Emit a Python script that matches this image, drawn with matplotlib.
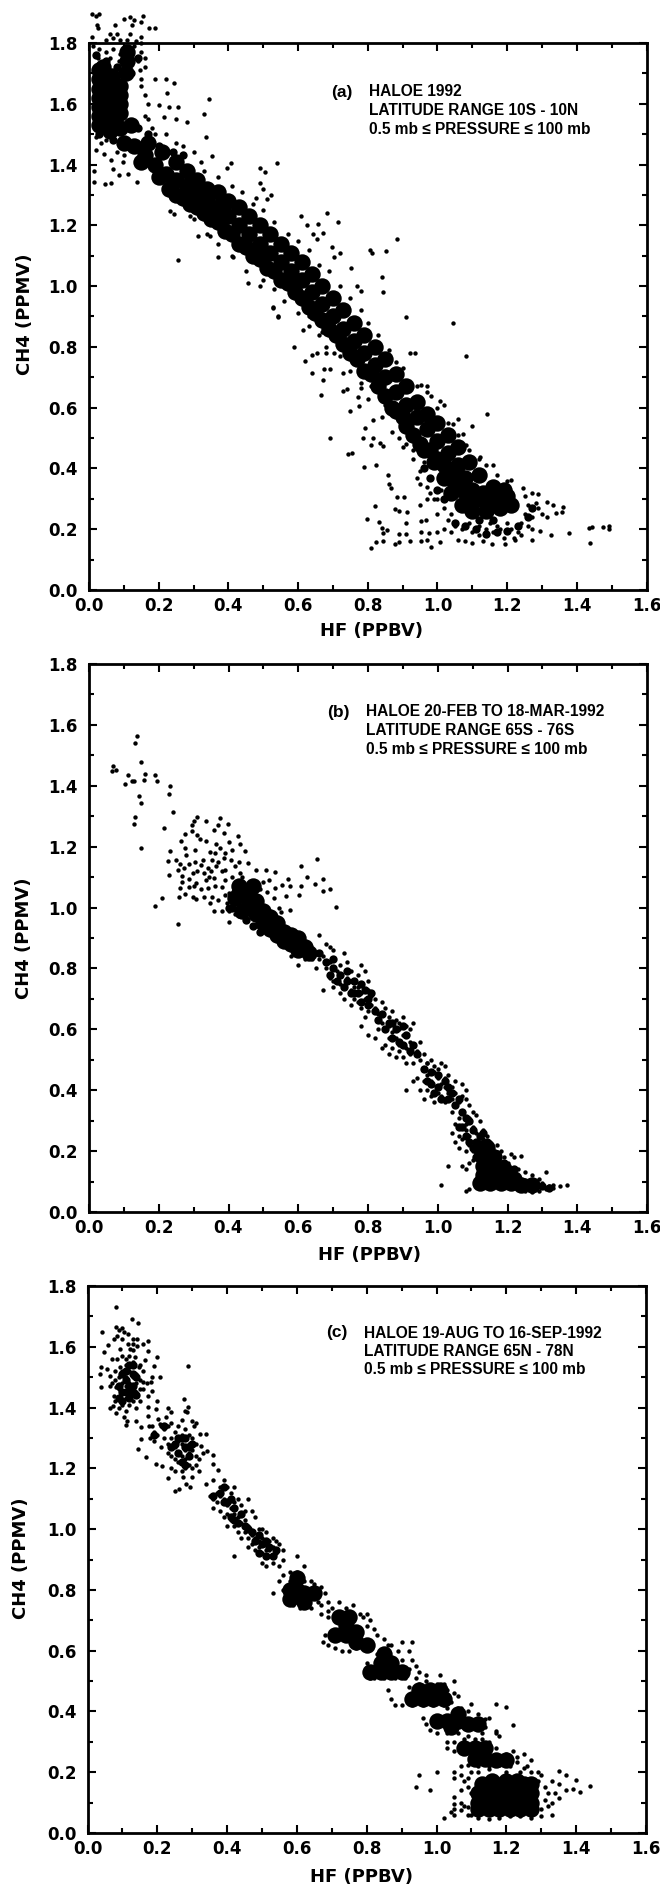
import numpy as np
import matplotlib
matplotlib.use("Agg")
import matplotlib.pyplot as plt
from matplotlib.ticker import MultipleLocator

plt.rcParams['font.family'] = ['DejaVu Sans']
plt.rcParams['font.weight'] = 'bold'

xticks = [0.0, 0.2, 0.4, 0.6, 0.8, 1.0, 1.2, 1.4, 1.6]
yticks = [0.0, 0.2, 0.4, 0.6, 0.8, 1.0, 1.2, 1.4, 1.6, 1.8]

dots_a = [(.02,1.89),(.01,1.895),(.03,1.895),(.023,1.86),(.025,1.85),(.075,1.86),(.1,1.88),(.117,1.885),(.123,1.86),(.13,1.875),(.154,1.89),(.148,1.87),(.172,1.85),(.19,1.85),(.06,1.83),(.08,1.83),(.117,1.83),(.148,1.82),(.01,1.82),(.05,1.81),(.07,1.815),(.09,1.81),(.11,1.81),(.135,1.805),(.15,1.8),
(.012,1.79),(.03,1.78),(.05,1.77),(.07,1.78),(.09,1.765),(.13,1.79),(.15,1.77),(.16,1.75),(.14,1.74),(.145,1.71),(.16,1.72),(.12,1.78),(.025,1.75),(.06,1.75),(.085,1.74),(.15,1.68),(.19,1.68),(.15,1.66),(.16,1.63),(.17,1.6),(.22,1.68),(.244,1.667),(.224,1.634),(.345,1.615),(.256,1.59),(.23,1.59),(.329,1.566),(.2,1.596),(.214,1.557),(.28,1.54),(.25,1.55),(.335,1.49),(.353,1.427),(.407,1.405),(.395,1.39),(.492,1.389),(.504,1.375),(.54,1.405),(.49,1.34),(.498,1.32),(.522,1.30),(.51,1.287),(.48,1.29),(.607,1.23),(.683,1.24),(.716,1.21),(.625,1.20),(.658,1.205),(.671,1.175),(.643,1.17),(.655,1.155),(.883,1.155),(.806,1.12),(.851,1.117),(.813,1.11),(.698,1.128),(.72,1.11),(.704,1.095),(.752,1.06),(.84,1.03),(.845,.98),(.77,1.0),(.782,.985),(.256,1.086),(.371,1.097),(.313,1.166),(.347,1.164),(.232,1.247),(.244,1.238),(.29,1.232),(.456,1.009),(.492,1.0),(.414,1.095),(.528,.93),(.543,.90),(.909,.899),
(.014,1.343),(.045,1.337),(.063,1.34),(.139,1.343),(.087,1.365),(.111,1.37),(.015,1.38),(.069,1.387),(.099,1.408),(.02,1.447),(.042,1.436),(.063,1.414),(.02,1.49),(.035,1.47),(.05,1.48),(.08,1.44),(.1,1.43),(.03,1.51),
(.17,1.55),(.18,1.52),(.19,1.5),(.16,1.56),(.22,1.5),(.25,1.47),(.27,1.46),(.3,1.44),(.32,1.41),(.33,1.38),(.37,1.36),(.41,1.33),(.44,1.31),(.47,1.27),(.5,1.25),(.53,1.21),(.57,1.17),(.6,1.15),(.63,1.12),(.66,1.07),(.69,1.05),(.72,1.0),(.75,.96),(.78,.92),(.8,.88),(.83,.84),(.86,.79),(.88,.75),(.9,.73),(.94,.67),(.97,.65),(1.0,.6),(1.03,.55),(1.06,.51),(1.09,.46),(1.12,.43),(1.14,.41),(1.17,.38),(1.2,.36),
(.3,1.22),(.34,1.17),(.37,1.14),(.41,1.1),(.45,1.05),(.5,1.02),(.53,.99),(.56,.95),(.6,.91),(.63,.87),(.66,.84),(.68,.8),(.72,.77),(.75,.72),(.78,.68),(.8,.63),(.84,.57),(.87,.52),(.9,.47),(.93,.43),(.95,.39),(.97,.34),(.99,.3),(1.0,.25),(.97,.3),(.95,.28),
(1.046,.88),(1.082,.77),(.921,.78),(.937,.78),(.589,.8),(.613,.855),(.529,.927),(.543,.899),(.619,.753),(.641,.772),(.655,.779),(.68,.781),(.704,.781),(.641,.713),(.674,.728),(.692,.726),(.671,.69),(.665,.643),(.728,.715),(.74,.66),(.728,.656),(.773,.634),(.749,.59),(.774,.604),(.782,.665),(.692,.5),(.785,.5),(.792,.533),(.816,.56),(.815,.5),(.809,.476),(.834,.483),(.845,.475),(.742,.447),(.755,.45),(.788,.404),(.825,.412),(.857,.377),(.861,.348),(.867,.337),(.885,.307),(.903,.305),(.822,.277),(.879,.267),(.891,.261),(.913,.258),(.798,.233),(.833,.225),(.84,.205),(.855,.197),(.843,.189),(.909,.219),(.891,.184),(.909,.183),(.825,.159),(.843,.161),(.809,.137),(.879,.151),(.891,.159),(.921,.161),(.952,.161),(.97,.164),(.982,.142),(1.006,.159),(.952,.192),(.976,.186),(.952,.228),(.967,.23),
(1.143,.579),(1.099,.541),(1.06,.564),(1.046,.546),(1.018,.61),(1.006,.621),(.982,.638),(.97,.671),(.952,.676),(1.073,.513),(1.082,.478),(1.121,.439),(1.16,.412),(1.212,.362),(1.245,.337),(1.29,.315),(1.272,.32),(1.284,.285),(1.314,.291),(1.333,.28),(1.36,.274),(1.357,.258),(1.339,.255),(1.314,.241),(1.294,.194),(1.326,.181),(1.379,.189),(1.435,.203),(1.445,.206),(1.475,.206),(1.492,.211),(1.492,.2),(1.438,.154),(1.272,.164),(1.224,.164),(1.194,.153),(1.157,.153),
(1.25,.31),(1.26,.28),(1.25,.25),(1.27,.24),(1.24,.22),(1.26,.21),(1.23,.19),(1.21,.2),(1.24,.18),(1.22,.17),(1.27,.2),(1.29,.27),(1.3,.25),(1.18,.2),(1.16,.19),(1.19,.17),(1.14,.2),(1.12,.18),(1.1,.19),(1.13,.16),(1.1,.155),(1.08,.16),(1.06,.165),(1.04,.19),(1.05,.21),(1.02,.2),(1.0,.19),(1.03,.23),(1.07,.2),(1.09,.22),(1.12,.21),(1.15,.22),(1.17,.21),(1.2,.22),(1.04,.25),(1.02,.27),(1.0,.3),(.98,.32),(1.01,.33),(.95,.35),(.94,.37),(.96,.42),(.93,.46),(.91,.48),(.89,.5),(.9,.55),(.87,.58),(.85,.61),(.84,.64),(.81,.67),(.78,.71),(.72,.8),(.7,.83),(.67,.85),(.63,.9)]

mid_a = [(1.05,.22),(1.08,.21),(1.11,.2),(1.14,.185),(1.17,.19),(1.2,.195),(1.23,.21),(1.12,.23),(1.16,.23),(1.26,.24),(1.27,.27),(1.0,.33),(.98,.37),(.96,.4),(1.02,.3),
(.02,1.76),(.05,1.74),(.08,1.72),(.12,1.7),(.14,1.75),(.03,1.5),(.07,1.48),(.14,1.52),(.17,1.5),(.2,1.46),(.24,1.44),(.27,1.43)]

core_a = [(.03,1.53),(.03,1.56),(.03,1.59),(.03,1.62),(.03,1.65),(.03,1.68),(.03,1.71),(.04,1.55),(.04,1.58),(.04,1.61),(.04,1.64),(.04,1.67),(.04,1.70),(.04,1.72),(.065,1.54),(.065,1.57),(.065,1.6),(.065,1.63),(.065,1.66),(.065,1.69),(.09,1.57),(.09,1.6),(.09,1.63),(.09,1.66),(.105,1.7),(.11,1.74),(.11,1.77),(.09,1.52),(.12,1.53),(.06,1.51),
(.1,1.47),(.13,1.46),(.16,1.43),(.19,1.40),(.22,1.37),(.25,1.35),(.28,1.33),(.31,1.30),(.34,1.28),(.37,1.26),(.40,1.23),(.43,1.20),(.46,1.17),(.49,1.14),(.52,1.11),(.55,1.08),(.58,1.05),(.61,1.02),(.64,.98),(.67,.94),(.70,.90),(.73,.86),(.76,.82),(.79,.78),(.82,.74),(.85,.70),(.88,.65),(.91,.61),(.94,.57),(.97,.53),(1.0,.49),(1.03,.45),(1.06,.41),(1.08,.37),(1.10,.33),(1.12,.30),
(.17,1.47),(.21,1.44),(.25,1.41),(.28,1.38),(.31,1.35),(.34,1.32),(.37,1.31),(.40,1.28),(.43,1.26),(.46,1.23),(.49,1.20),(.52,1.17),(.55,1.14),(.58,1.11),(.61,1.08),(.64,1.04),(.67,1.00),(.70,.96),(.73,.92),(.76,.88),(.79,.84),(.82,.80),(.85,.76),(.88,.71),(.91,.67),(.94,.62),(.97,.58),(1.0,.55),(1.03,.51),(1.06,.47),(1.09,.42),(1.12,.38),(1.16,.34),(1.2,.31),
(.23,1.32),(.27,1.29),(.31,1.26),(.35,1.22),(.39,1.18),(.43,1.14),(.47,1.10),(.51,1.06),(.55,1.02),(.59,.98),(.63,.93),(.67,.89),(.71,.84),(.75,.78),(.79,.72),(.83,.67),(.87,.60),(.91,.54),(.95,.48),(.99,.42),(1.02,.37),(1.04,.32),(1.07,.28),(1.1,.26),(1.14,.26),(1.18,.27),(1.21,.28),(1.15,.30),(1.19,.33),
(.93,.51),(.96,.46),(.98,.46),(1.0,.43),(1.02,.41),(1.04,.39),(1.05,.35),(1.07,.33),(1.09,.30),(1.13,.32),(1.17,.30),(1.06,.37),(.85,.64),(.88,.59),(.9,.57),(.81,.71),(.77,.76),(.73,.81),(.69,.86),(.65,.91),(.61,.96),(.57,1.01),(.53,1.05),(.49,1.09),(.45,1.13),(.41,1.17),(.37,1.21),(.33,1.24),(.29,1.27),(.25,1.3),(.2,1.36),(.15,1.41)]

# Panel (b)
dots_b = [(.138,1.565),(.133,1.542),(.15,1.478),(.069,1.466),(.077,1.452),(.065,1.45),(.111,1.436),(.102,1.406),(.123,1.417),(.13,1.417),(.157,1.42),(.162,1.44),(.19,1.436),(.196,1.417),(.232,1.4),(.229,1.373),(.144,1.368),(.15,1.343),(.133,1.297),(.129,1.275),(.148,1.195),(.242,1.315),(.216,1.26),(.19,1.005),(.208,1.033),(.256,.946),
(.311,1.299),(.302,1.283),(.295,1.272),(.335,1.283),(.377,1.294),(.371,1.272),(.359,1.255),(.399,1.274),(.386,1.246),(.428,1.235),(.432,1.209),(.447,1.187),(.274,1.241),(.295,1.25),(.311,1.239),(.265,1.22),(.317,1.224),(.335,1.217),(.365,1.209),(.401,1.215),(.377,1.195),(.232,1.186),(.226,1.154),(.23,1.107),(.274,1.195),(.305,1.189),(.347,1.184),(.278,1.173),(.25,1.157),(.262,1.143),(.287,1.143),(.256,1.124),(.271,1.129),(.305,1.151),(.326,1.157),(.353,1.157),(.386,1.162),(.407,1.157),(.456,1.146),(.42,1.135),(.48,1.124),(.508,1.124),(.534,1.116),(.432,1.113),(.268,1.104),(.299,1.113),(.329,1.113),(.365,1.135),(.389,1.124),(.268,1.085),(.287,1.093),(.307,1.08),(.335,1.091),(.359,1.096),(.262,1.063),(.287,1.069),(.341,1.063),(.38,1.069),(.259,1.034),(.274,1.045),(.299,1.036),(.307,1.027),(.329,1.036),(.347,1.014),(.359,.99),(.38,.99),(.401,.951),(.353,1.036),(.371,1.025),(.395,1.014),(.401,1.047),
(.32,1.14),(.34,1.13),(.37,1.15),(.39,1.09),(.41,1.1),(.44,1.1),(.36,1.07),(.39,1.04),(.41,1.02),(.4,.99),(.42,.98),(.38,1.12),(.31,1.12),(.3,1.07),(.32,1.06),(.345,1.1),(.35,1.12),(.36,1.18),(.41,1.19),(.39,1.18),(.43,1.15),
(.655,1.16),(.607,1.138),(.571,1.094),(.553,1.074),(.577,1.071),(.609,1.071),(.625,1.1),(.67,1.094),(.649,1.078),(.692,1.061),(.67,1.056),(.601,1.042),(.565,1.038),(.532,1.063),(.707,1.003),(.516,1.091),(.498,1.085),(.577,.992),(.55,.985),(.53,1.03),(.545,1.0),(.49,1.06),(.51,1.05),
(.66,.91),(.68,.88),(.69,.87),(.7,.86),(.64,.83),(.62,.83),(.6,.81),(.65,.8),(.58,.84),(.67,.84),(.68,.8),(.66,.83),(.69,.82),(.72,.81),(.73,.85),(.74,.82),(.75,.79),(.77,.78),(.79,.79),(.8,.76),(.78,.81),(.71,.79),(.69,.77),(.7,.74),(.67,.73),(.7,.76),(.72,.72),(.73,.7),(.75,.73),(.76,.7),(.77,.74),(.78,.72),(.79,.7),(.8,.73),(.81,.71),(.82,.7),(.73,.74),(.74,.77),(.75,.76),(.76,.74),(.72,.75),(.75,.68),(.77,.69),(.83,.65),(.81,.68),(.78,.67),(.8,.66),(.79,.64),(.82,.67),(.84,.69),(.85,.67),(.86,.64),(.87,.66),(.84,.62),(.85,.6),(.83,.6),(.78,.61),(.8,.58),(.82,.57),(.86,.61),(.88,.63),(.89,.6),(.91,.61),(.92,.6),(.93,.62),(.9,.58),(.88,.57),(.87,.54),(.85,.55),(.84,.54),(.86,.57),(.89,.55),(.91,.54),(.93,.55),(.95,.56),(.92,.52),(.94,.53),(.9,.51),(.88,.51),(.91,.49),(.93,.49),(.95,.5),(.96,.52),(.97,.49),
(.87,.59),(.89,.62),(.9,.64),(.88,.6),(.91,.58),(.92,.56),(.86,.52),(.89,.53),
(.94,.44),(.96,.47),(.97,.49),(.98,.5),(.99,.48),(1.0,.47),(1.01,.49),(1.02,.48),(1.03,.45),(1.05,.43),(1.07,.42),(1.08,.4),(.96,.43),(.97,.45),(.98,.43),(.99,.46),(1.0,.44),(1.01,.42),(1.02,.44),(1.04,.41),(1.05,.39),(1.07,.38),(1.08,.37),(.97,.4),(.98,.38),(.99,.36),(1.0,.39),(1.01,.38),(1.02,.36),(1.03,.39),(1.04,.37),(1.06,.36),(1.09,.35),(1.03,.4),(1.0,.41),(1.02,.41),(.93,.43),(.91,.4),(.95,.4),(.96,.37),
(1.04,.33),(1.05,.29),(1.06,.31),(1.07,.33),(1.08,.29),(1.09,.31),(1.1,.33),(1.11,.32),(1.12,.3),(1.13,.27),(1.14,.25),(1.15,.23),(1.17,.22),(1.18,.2),(1.04,.26),(1.05,.23),(1.06,.25),(1.07,.24),(1.08,.27),(1.09,.25),(1.1,.28),(1.11,.26),(1.12,.23),(1.13,.24),(1.14,.22),(1.06,.21),(1.08,.2),(1.09,.22),(1.1,.2),(1.11,.19),(1.09,.16),(1.07,.15),(1.08,.14),(1.1,.17),(1.03,.15),(1.01,.09),(1.08,.07),(1.09,.075),(1.19,.18),(1.21,.19),(1.22,.18),(1.24,.185),(1.2,.16),(1.23,.14),(1.25,.13),(1.27,.12),(1.29,.11),(1.31,.13),(1.3,.095),(1.32,.085),(1.33,.08),(1.35,.085),(1.37,.09),(1.31,.075),(1.29,.07),(1.27,.065),(1.25,.07),(1.33,.09),(1.28,.1)]

mid_b = [(.66,.85),(.68,.82),(.7,.8),(.72,.78),(.74,.79),(.76,.76),(.78,.75),(.71,.76),(.73,.74),(.75,.72),(.77,.72),(.79,.73),(.8,.7),(.81,.72),(.78,.69),(.82,.66),(.84,.65),(.86,.62),(.88,.6),(.9,.61),(.87,.57),(.89,.56),(.91,.58),(.93,.55),(.92,.53),(.96,.47),(.98,.46),(1.0,.45),(.98,.42),(1.0,.41),(1.02,.43),(1.04,.39),(1.01,.37),(1.03,.37),(1.06,.37),(1.07,.33),(1.09,.3),(1.06,.28),(1.08,.25),(1.1,.27),(1.11,.23),(1.13,.26),(1.1,.21),(1.13,.2),(1.15,.22),(1.17,.19),(1.11,.18),(1.19,.16),(1.22,.14),(1.25,.1),(1.28,.085),(1.3,.085),(1.32,.08),(.4,1.0),(.42,1.05),(.41,1.0),(.43,.98),(.45,.96),(.47,.94),(.49,.92),
(.69,.78),(.7,.83),(.74,.76),(.76,.72),(.8,.68),(.83,.63),(.85,.6),(.87,.62),(.9,.55),(.94,.52),(.97,.43),(.99,.39),(1.03,.41),(1.05,.35),(1.08,.31),(1.07,.28),(1.09,.23),(1.12,.25),(1.14,.23),(1.12,.17),(1.15,.19)]

core_b = [(.42,1.03),(.43,1.07),(.44,1.04),(.44,.99),(.46,1.01),(.46,1.05),(.47,1.07),(.48,.98),(.48,1.02),(.5,.95),(.5,.99),(.52,.93),(.52,.97),(.54,.91),(.54,.95),(.56,.89),(.56,.92),(.58,.88),(.58,.91),(.6,.86),(.6,.9),(.62,.87),(.63,.85),
(1.12,.095),(1.15,.095),(1.18,.095),(1.21,.095),(1.24,.09),(1.27,.09),(1.13,.12),(1.16,.12),(1.19,.12),(1.22,.11),(1.13,.15),(1.16,.15),(1.19,.14),(1.13,.18),(1.16,.18),(1.12,.21),(1.14,.21)]

# Panel (c)
dots_c = [(.081,1.732),(.127,1.691),(.145,1.677),(.041,1.647),(.081,1.666),(.099,1.662),(.09,1.656),(.105,1.647),(.117,1.642),(.085,1.636),(.099,1.625),(.075,1.625),(.06,1.607),(.048,1.582),(.129,1.625),(.141,1.625),(.172,1.62),(.16,1.608),(.172,1.587),(.141,1.603),(.093,1.592),(.123,1.592),(.069,1.56),(.085,1.56),(.111,1.56),(.135,1.565),(.166,1.556),(.2,1.567),(.19,1.538),(.039,1.532),(.057,1.526),(.036,1.51),(.065,1.505),(.093,1.532),(.123,1.538),(.148,1.532),(.184,1.5),(.208,1.5),(.289,1.538),(.039,1.469),(.065,1.472),(.081,1.467),(.16,1.483),(.181,1.483),(.184,1.456),(.172,1.439),(.075,1.439),(.073,1.406),(.065,1.399),(.081,1.381),(.109,1.344),(.114,1.357),(.138,1.357),(.154,1.335),(.154,1.297),(.145,1.262),(.169,1.237),(.2,1.423),(.174,1.401),(.174,1.373),(.196,1.395),(.232,1.399),(.277,1.428),(.289,1.403),(.286,1.384),(.238,1.384),(.226,1.368),(.202,1.363),(.186,1.34),(.208,1.346),(.299,1.357),(.305,1.34),(.323,1.313),(.339,1.313),(.326,1.275),(.359,1.245),(.341,1.258),(.359,1.215),(.374,1.193),(.196,1.215),(.214,1.209),(.23,1.169),(.25,1.125),(.262,1.133),(.281,1.149),(.274,1.171),(.293,1.138),
(.09,1.5),(.1,1.52),(.11,1.5),(.12,1.52),(.13,1.5),(.14,1.51),(.15,1.49),(.1,1.48),(.11,1.47),(.12,1.48),(.13,1.47),(.14,1.48),(.15,1.46),(.08,1.49),(.07,1.48),(.09,1.46),(.1,1.45),(.12,1.45),(.13,1.44),(.14,1.45),(.09,1.43),(.11,1.43),(.12,1.41),(.1,1.41),(.13,1.42),(.15,1.42),(.08,1.42),(.09,1.4),(.11,1.39),(.14,1.4),(.11,1.54),(.13,1.55),(.1,1.57),(.12,1.57),(.15,1.54),(.16,1.52),(.08,1.52),(.13,1.59),(.115,1.61),(.13,1.61),(.105,1.37),(.16,1.46),(.17,1.48),
(.175,1.34),(.19,1.32),(.2,1.31),(.18,1.3),(.19,1.29),(.21,1.34),(.22,1.33),(.23,1.34),(.24,1.35),(.22,1.3),(.23,1.28),(.21,1.27),(.24,1.3),(.25,1.32),(.26,1.34),(.27,1.36),(.28,1.33),(.29,1.31),(.27,1.31),(.26,1.29),(.25,1.27),(.27,1.28),(.28,1.26),(.29,1.28),(.3,1.3),(.31,1.28),(.26,1.25),(.27,1.24),(.28,1.23),(.29,1.25),(.3,1.26),(.31,1.24),(.32,1.23),(.25,1.23),(.24,1.24),(.23,1.25),(.26,1.22),(.29,1.21),(.3,1.2),(.31,1.21),(.33,1.25),(.28,1.2),(.27,1.19),(.3,1.17),(.32,1.19),(.25,1.19),(.24,1.2),(.31,1.35),(.28,1.39),
(.34,1.15),(.36,1.16),(.37,1.12),(.38,1.14),(.39,1.16),(.4,1.14),(.41,1.12),(.42,1.14),(.35,1.11),(.36,1.1),(.37,1.09),(.38,1.11),(.39,1.1),(.4,1.08),(.41,1.07),(.42,1.09),(.43,1.1),(.44,1.08),(.46,1.1),(.45,1.06),(.47,1.06),(.36,1.07),(.38,1.06),(.39,1.04),(.4,1.05),(.41,1.03),(.42,1.05),(.43,1.04),(.44,1.02),(.45,1.03),(.46,1.01),(.48,1.04),(.49,1.0),(.5,1.0),(.4,1.01),(.42,1.01),(.43,.99),(.45,.99),(.46,.97),(.47,.98),(.48,.97),(.49,.96),(.5,.97),(.51,.99),(.52,.96),(.53,.97),(.54,.96),(.55,.95),(.44,.97),(.46,.94),(.47,.95),(.48,.93),(.49,.94),(.5,.92),(.51,.93),(.52,.93),(.53,.94),(.54,.92),(.56,.93),(.42,.91),(.5,.89),(.51,.88),(.53,.89),(.55,.88),(.56,.9),(.58,.86),(.6,.91),(.62,.88),
(.53,.79),(.55,.83),(.56,.8),(.56,.85),(.58,.83),(.6,.86),(.62,.83),(.64,.83),(.65,.82),(.67,.81),(.68,.79),(.69,.76),(.69,.73),(.57,.76),(.59,.75),(.61,.74),(.63,.75),(.64,.74),(.66,.76),(.67,.75),
(.67,.72),(.69,.71),(.7,.74),(.72,.76),(.74,.74),(.76,.75),(.78,.72),(.79,.71),(.8,.72),(.8,.68),(.81,.7),(.82,.67),(.83,.65),(.85,.64),(.86,.62),(.84,.6),(.68,.65),(.675,.63),(.69,.62),(.71,.61),(.73,.6),(.75,.6),(.77,.61),
(.9,.63),(.87,.62),(.89,.6),(.92,.6),(.93,.63),(.93,.57),(.9,.57),(.94,.55),(.92,.54),(.95,.53),(.97,.52),(.8,.52),(.81,.51),(.82,.51),(.85,.51),(.88,.51),(.91,.51),(.94,.51),(.8,.56),(.83,.59),
(.86,.47),(.87,.44),(.88,.42),(.9,.42),(.92,.48),(.95,.49),(.97,.5),(1.0,.49),(1.01,.52),(1.02,.49),(1.05,.5),(1.03,.47),(1.06,.45),(1.04,.43),(1.05,.46),(.93,.42),(.96,.42),(.99,.42),(1.02,.42),
(.96,.38),(.97,.36),(.98,.34),(1.0,.33),(1.03,.33),(1.06,.33),(1.09,.32),(1.13,.33),(1.14,.35),(1.15,.38),(1.14,.375),(1.12,.39),(1.09,.4),(1.06,.41),(1.03,.41),(1.1,.425),(1.07,.41),(1.17,.425),(1.17,.335),(1.2,.415),(1.22,.355),(1.17,.33),(1.15,.3),(1.18,.32),(1.11,.31),
(1.03,.3),(1.03,.28),(1.05,.27),(1.05,.3),(1.08,.31),(1.13,.31),(1.15,.29),(1.17,.28),(1.2,.26),(1.22,.27),(1.25,.26),(1.23,.25),(1.07,.22),(1.09,.225),(1.12,.22),(1.15,.22),(1.18,.225),(1.21,.22),(1.23,.235),(1.27,.24),(1.25,.215),(1.27,.2),(1.29,.2),(1.26,.22),
(.95,.19),(1.0,.2),(.94,.15),(.98,.14),(1.05,.2),(1.05,.18),(1.07,.19),(1.09,.18),(1.08,.17),(1.1,.2),(1.12,.2),(1.15,.21),(1.2,.2),(1.24,.2),(1.07,.14),(1.09,.15),(1.1,.13),(1.05,.12),(1.05,.095),(1.07,.1),(1.08,.09),(1.09,.085),(1.05,.08),(1.04,.07),(1.02,.05),(1.05,.06),(1.07,.075),(1.09,.06),(1.1,.06),(1.12,.05),(1.15,.045),(1.18,.05),(1.21,.055),(1.24,.055),(1.27,.05),(1.3,.055),(1.3,.08),(1.32,.09),(1.33,.06),(1.33,.1),(1.31,.11),(1.32,.13),(1.34,.13),(1.35,.16),(1.33,.17),(1.31,.15),(1.35,.115),(1.37,.14),(1.39,.145),(1.4,.175),(1.41,.135),(1.44,.155),(1.35,.205),(1.37,.19),(1.3,.19),(1.29,.17)]

mid_c = [(.09,1.47),(.11,1.49),(.13,1.47),(.11,1.45),(.13,1.51),(.12,1.54),(.1,1.51),(.14,1.44),(.12,1.43),(.09,1.43),
(.27,1.3),(.28,1.27),(.26,1.25),(.29,1.24),(.27,1.22),(.3,1.28),(.25,1.28),(.22,1.34),(.19,1.31),
(.38,1.12),(.4,1.09),(.42,1.07),(.41,1.04),(.43,1.02),(.45,1.01),(.47,.99),(.48,.96),(.5,.95),(.52,.94),(.49,.92),(.53,.91),(.44,1.05),(.39,1.14),
(.1,1.45),(.12,1.47),(.14,1.5),(.11,1.52),(.13,1.54),(.1,1.42),(.13,1.45),(.24,1.27),(.26,1.3),(.28,1.3),(.29,1.27),(.28,1.21),(.36,1.11),(.39,1.09),(.41,1.1),(.42,1.03),(.46,1.0),(.49,.98),(.51,.96),(.54,.93),(.51,.91)]

core_c = [(1.12,.08),(1.15,.08),(1.18,.08),(1.21,.08),(1.24,.08),(1.27,.08),(1.12,.1),(1.15,.1),(1.18,.1),(1.21,.1),(1.24,.1),(1.27,.1),(1.12,.13),(1.15,.13),(1.18,.13),(1.21,.13),(1.24,.13),(1.27,.13),(1.13,.16),(1.16,.16),(1.19,.16),(1.22,.16),(1.25,.16),(1.27,.16),(1.16,.17),(1.2,.17),(1.23,.17),
(1.08,.28),(1.11,.28),(1.14,.28),(1.11,.245),(1.14,.245),(1.17,.24),(1.2,.24),
(1.0,.37),(1.03,.37),(1.06,.37),(1.09,.36),(1.12,.36),(1.04,.35),(1.06,.39),
(.93,.44),(.96,.44),(.99,.44),(1.02,.44),(.95,.47),(.98,.47),(1.01,.47),
(.81,.53),(.84,.53),(.87,.53),(.9,.53),(.84,.56),(.87,.56),(.85,.59),
(.71,.65),(.74,.65),(.77,.63),(.74,.68),(.77,.66),(.8,.62),(.72,.71),(.75,.71),
(.58,.8),(.6,.8),(.62,.79),(.6,.84),(.58,.77),(.62,.76),(.65,.79)]

# text of each panel
tag = ['(a)', '(b)', '(c)']
title_1 = ['HALOE 1992', 'HALOE 20-FEB TO 18-MAR-1992', 'HALOE 19-AUG TO 16-SEP-1992']
title_2 = ['LATITUDE RANGE 10S - 10N', 'LATITUDE RANGE 65S - 76S', 'LATITUDE RANGE 65N - 78N']
title_3 = '0.5 mb \u2264 PRESSURE \u2264 100 mb'

W = 660.0
H = 1886.0
# axes box in pixels: left, right, top, bottom
boxes = [(89, 646.5, 43, 590), (89, 647, 664, 1212), (87.5, 646, 1286, 1833)]
xlabel_x = [371, 369, 362]
xlabel_y = [631, 1255, 1877]
ylabel_x = [25, 24, 21]
ylabel_y = [314, 938, 1558]
tag_right = [353, 350, 348]
text_left = [369, 366, 364]
text_y = [92, 712, 1333]
annot_font = ['Liberation Sans', 'DejaVu Sans']

fig = plt.figure(figsize=(W/100, H/100), dpi=100)

panels = [(dots_a, mid_a, core_a), (dots_b, mid_b, core_b), (dots_c, mid_c, core_c)]
for i in range(3):
    l, r, t, b = boxes[i]
    ax = fig.add_axes([l/W, 1-b/H, (r-l)/W, (b-t)/H])
    dots = np.array(panels[i][0])
    mid = np.array(panels[i][1])
    core = np.array(panels[i][2])
    ax.scatter(core[:, 0], core[:, 1], s=140, c='k', linewidths=0, zorder=3)
    ax.scatter(mid[:, 0], mid[:, 1], s=36, c='k', linewidths=0, zorder=3)
    ax.scatter(dots[:, 0], dots[:, 1], s=10, c='k', linewidths=0, clip_on=False, zorder=3)

    ax.set_xlim(0, 1.6)
    ax.set_ylim(0, 1.8)
    ax.set_xticks(xticks)
    ax.set_yticks(yticks)
    ax.set_xticklabels(['%.1f' % v for v in xticks], fontsize=12, fontweight='bold')
    ax.set_yticklabels(['%.1f' % v for v in yticks], fontsize=12, fontweight='bold')
    ax.xaxis.set_minor_locator(MultipleLocator(0.1))
    ax.yaxis.set_minor_locator(MultipleLocator(0.1))
    ax.tick_params(which='major', direction='in', length=5.5, width=1.5, top=True, right=True)
    ax.tick_params(which='minor', direction='in', length=3.5, width=1.5, top=True, right=True)
    ax.tick_params(axis='x', which='major', pad=5)
    ax.tick_params(axis='y', which='major', pad=8)
    for s in ax.spines.values():
        s.set_linewidth(2.0)
        s.set_zorder(4)

    fig.text(xlabel_x[i]/W, 1-xlabel_y[i]/H, 'HF (PPBV)', fontsize=13, fontweight='bold', ha='center', va='center')
    fig.text(ylabel_x[i]/W, 1-ylabel_y[i]/H, 'CH4 (PPMV)', fontsize=13, fontweight='bold', rotation=90, ha='center', va='center')

    ty = text_y[i]
    fig.text(tag_right[i]/W, 1-ty/H, tag[i], fontsize=12.5, fontweight='bold', family=annot_font, ha='right', va='center')
    fig.text(text_left[i]/W, 1-ty/H, title_1[i], fontsize=11.2, fontweight='bold', family=annot_font, ha='left', va='center')
    fig.text(text_left[i]/W, 1-(ty+18.5)/H, title_2[i], fontsize=11.2, fontweight='bold', family=annot_font, ha='left', va='center')
    fig.text(text_left[i]/W, 1-(ty+37)/H, title_3, fontsize=11.2, fontweight='bold', family=annot_font, ha='left', va='center')

fig.savefig('out.png', dpi=100)
